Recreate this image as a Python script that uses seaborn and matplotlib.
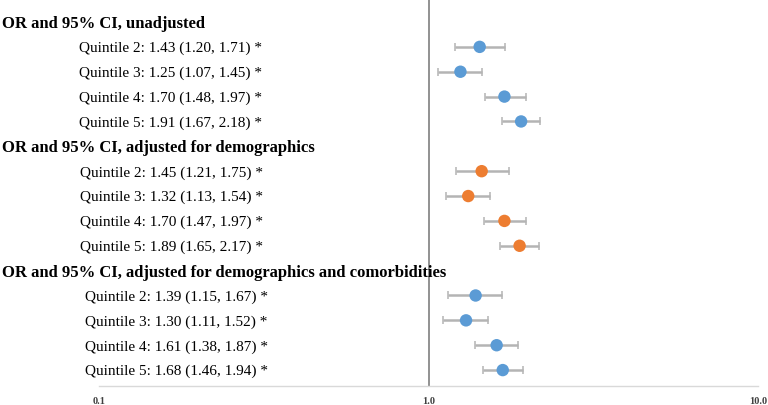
import numpy as np
import pandas as pd
import matplotlib
matplotlib.use('Agg')
import matplotlib.pyplot as plt
import matplotlib.transforms as mtransforms
import seaborn as sns

# Data
groups = ['OR and 95% CI, unadjusted',
          'OR and 95% CI, adjusted for demographics',
          'OR and 95% CI, adjusted for demographics and comorbidities']
quintiles = ['Quintile 2', 'Quintile 3', 'Quintile 4', 'Quintile 5']
or_unadj = [1.43, 1.25, 1.70, 1.91]
lo_unadj = [1.20, 1.07, 1.48, 1.67]
hi_unadj = [1.71, 1.45, 1.97, 2.18]
or_demo = [1.45, 1.32, 1.70, 1.89]
lo_demo = [1.21, 1.13, 1.47, 1.65]
hi_demo = [1.75, 1.54, 1.97, 2.17]
or_comorb = [1.39, 1.30, 1.61, 1.68]
lo_comorb = [1.15, 1.11, 1.38, 1.46]
hi_comorb = [1.67, 1.52, 1.87, 1.94]
x_ticks = [0.1, 1.0, 10.0]
x_tick_labels = ['0.1', '1.0', '10.0']

BLUE = '#5B9BD5'
ORANGE = '#ED7D31'
group_colors = [BLUE, ORANGE, BLUE]

# Build a long table, one row per quintile, with header rows taking a slot
rows = []
pos = 0
for g, (ors, los, his) in enumerate([(or_unadj, lo_unadj, hi_unadj),
                                     (or_demo, lo_demo, hi_demo),
                                     (or_comorb, lo_comorb, hi_comorb)]):
    header_pos = pos
    pos += 1
    for q, o, l, h in zip(quintiles, ors, los, his):
        rows.append({'group': g, 'header_pos': header_pos, 'pos': pos,
                     'quintile': q, 'or': o, 'lo': l, 'hi': h})
        pos += 1
df = pd.DataFrame(rows)

sns.set_style('white')
plt.rcParams['font.family'] = ['Liberation Serif', 'DejaVu Serif']

fig = plt.figure(figsize=(7.68, 4.05), dpi=100)
ax = fig.add_axes([99 / 768, 19 / 405, (758 - 99) / 768, 386 / 405])

ax.set_xscale('log')
ax.set_xlim(0.1, 10.0)
ax.set_ylim(14.64, -0.885)

ax.axvline(1.0, color='#7F7F7F', lw=1.2, zorder=1)

# Confidence intervals: light bar, darker caps
eb = ax.errorbar(df['or'], df['pos'],
                 xerr=[df['or'] - df['lo'], df['hi'] - df['or']],
                 fmt='none', ecolor='#B4B4B4', elinewidth=1.8, capsize=3,
                 capthick=1.1, zorder=2)
for cap in eb[1]:
    cap.set_color('#7F7F7F')

# Point estimates
sns.scatterplot(data=df, x='or', y='pos', hue='group',
                palette=group_colors, s=80, edgecolor='none',
                legend=False, ax=ax, zorder=3)

# Row labels
trans = mtransforms.blended_transform_factory(fig.transFigure, ax.transData)
label_x = [79 / 768, 80 / 768, 85 / 768]
for g, name in enumerate(groups):
    sub = df[df['group'] == g]
    fig.text(2 / 768, sub['header_pos'].iloc[0], name, transform=trans,
             ha='left', va='center_baseline', fontsize=12, fontweight='bold',
             color='black')
    for _, r in sub.iterrows():
        txt = f"{r['quintile']}: {r['or']:.2f} ({r['lo']:.2f}, {r['hi']:.2f}) *"
        fig.text(label_x[g], r['pos'], txt, transform=trans,
                 ha='left', va='center_baseline', fontsize=11, color='black')

ax.set_xticks(x_ticks)
ax.set_xticklabels(x_tick_labels, fontsize=7.5, fontweight='bold', color='#404040')
ax.xaxis.set_minor_locator(matplotlib.ticker.NullLocator())
ax.tick_params(axis='x', length=0, pad=8)
ax.set_yticks([])
ax.set_xlabel('')
ax.set_ylabel('')

for side in ['top', 'left', 'right']:
    ax.spines[side].set_visible(False)
ax.spines['bottom'].set_color('#D9D9D9')
ax.spines['bottom'].set_linewidth(1.0)

fig.savefig('out.png', dpi=100)
